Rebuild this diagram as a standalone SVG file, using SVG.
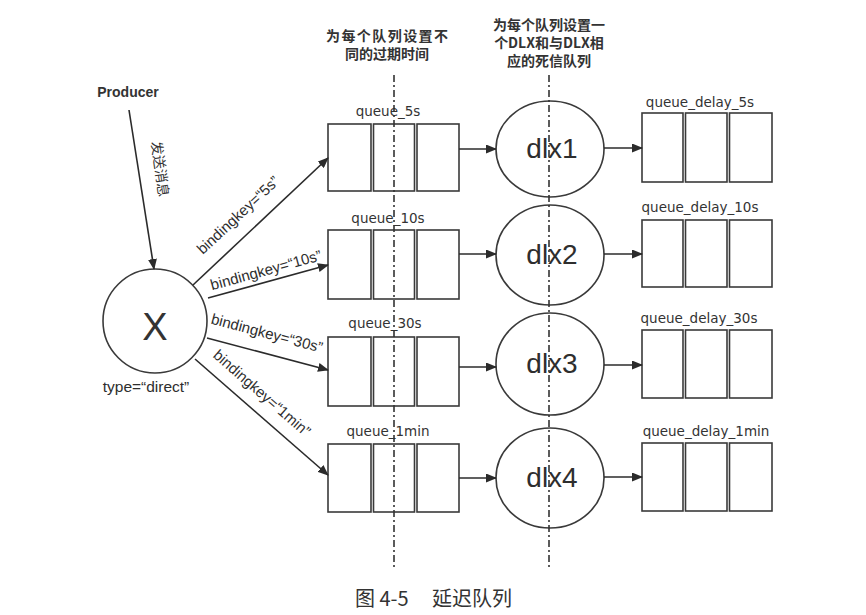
<svg xmlns="http://www.w3.org/2000/svg" width="866" height="615" viewBox="0 0 866 615">
<defs>
<marker id="arr" markerUnits="userSpaceOnUse" markerWidth="11" markerHeight="9" refX="10" refY="4.5" orient="auto">
<path d="M0,0 L11,4.5 L0,9 z" fill="#2b2b2b"/>
</marker>
<style>
.cell{fill:#fff;stroke:#3a3a3a;stroke-width:1.6}
.circ{fill:#fff;stroke:#3a3a3a;stroke-width:1.6}
.conn line{stroke:#2b2b2b;stroke-width:1.6;marker-end:url(#arr)}
.dash{stroke:#333;stroke-width:1.6;stroke-dasharray:7 3 2 3}
.qlab{font-family:"DejaVu Sans",sans-serif;font-size:13.5px;fill:#333}
.dlx{font-family:"Liberation Sans",Arial,sans-serif;font-size:28px;fill:#2e2e2e;text-anchor:middle}
.bk{font-family:"Liberation Sans",Arial,sans-serif;font-size:15px;fill:#2e2e2e;text-anchor:middle}
.hd{font-family:"Noto Sans CJK SC",sans-serif;font-size:14px;font-weight:bold;fill:#333;text-anchor:middle}
.cap{font-family:"Noto Sans CJK SC",sans-serif;font-size:20px;fill:#333}
</style>
</defs>
<rect width="866" height="615" fill="#fff"/>

<!-- headers -->
<g id="header-ttl">
<text class="hd" x="387" y="41" textLength="122">为每个队列设置不</text>
<text class="hd" x="387" y="59">同的过期时间</text>
</g>
<g id="header-dlx">
<text class="hd" x="549" y="30">为每个队列设置一</text>
<text class="hd" x="549" y="48">个DLX和与DLX相</text>
<text class="hd" x="549" y="66">应的死信队列</text>
</g>

<!-- producer -->
<g id="producer">
<text x="128" y="97" font-family="Liberation Sans,Arial,sans-serif" font-size="14" font-weight="bold" fill="#333" text-anchor="middle">Producer</text>
</g>

<!-- exchange X -->
<g id="exchange-x">
<circle class="circ" cx="155" cy="321" r="52"/>
<text x="155" y="340" font-family="Liberation Sans,Arial,sans-serif" font-size="38" fill="#333" text-anchor="middle">X</text>
<text x="146" y="392" font-family="Liberation Sans,Arial,sans-serif" font-size="15.5" fill="#2e2e2e" text-anchor="middle">type=“direct”</text>
</g>

<!-- left queues -->
<g id="queue_5s">
<text class="qlab" x="388" y="116" text-anchor="middle">queue_5s</text>
<rect class="cell" x="328" y="124" width="43" height="67"/>
<rect class="cell" x="373.5" y="124" width="41" height="67"/>
<rect class="cell" x="417" y="124" width="42" height="67"/>
</g>
<g id="queue_10s">
<text class="qlab" x="388" y="223" text-anchor="middle">queue_10s</text>
<rect class="cell" x="328" y="230" width="43" height="69"/>
<rect class="cell" x="373.5" y="230" width="41" height="69"/>
<rect class="cell" x="417" y="230" width="42" height="69"/>
</g>
<g id="queue_30s">
<text class="qlab" x="385" y="328" text-anchor="middle">queue_30s</text>
<rect class="cell" x="328" y="337" width="43" height="69"/>
<rect class="cell" x="373.5" y="337" width="41" height="69"/>
<rect class="cell" x="417" y="337" width="42" height="69"/>
</g>
<g id="queue_1min">
<text class="qlab" x="388" y="436" text-anchor="middle">queue_1min</text>
<rect class="cell" x="328" y="444" width="43" height="68"/>
<rect class="cell" x="373.5" y="444" width="41" height="68"/>
<rect class="cell" x="417" y="444" width="42" height="68"/>
</g>

<!-- dlx exchanges -->
<g id="dlx1">
<ellipse class="circ" cx="550" cy="149" rx="54" ry="48"/>
<text class="dlx" x="552" y="158">dlx1</text>
</g>
<g id="dlx2">
<ellipse class="circ" cx="550" cy="255" rx="54" ry="50"/>
<text class="dlx" x="552" y="264">dlx2</text>
</g>
<g id="dlx3">
<ellipse class="circ" cx="550" cy="364" rx="54" ry="51"/>
<text class="dlx" x="552" y="373">dlx3</text>
</g>
<g id="dlx4">
<ellipse class="circ" cx="550" cy="478" rx="54" ry="50"/>
<text class="dlx" x="552" y="487">dlx4</text>
</g>

<!-- right queues -->
<g id="queue_delay_5s">
<text class="qlab" x="700" y="107" text-anchor="middle">queue_delay_5s</text>
<rect class="cell" x="642" y="113" width="41" height="69"/>
<rect class="cell" x="685.5" y="113" width="41.5" height="69"/>
<rect class="cell" x="729.5" y="113" width="42.5" height="69"/>
</g>
<g id="queue_delay_10s">
<text class="qlab" x="700" y="212" text-anchor="middle">queue_delay_10s</text>
<rect class="cell" x="642" y="220" width="41" height="67"/>
<rect class="cell" x="685.5" y="220" width="41.5" height="67"/>
<rect class="cell" x="729.5" y="220" width="42.5" height="67"/>
</g>
<g id="queue_delay_30s">
<text class="qlab" x="699" y="323" text-anchor="middle">queue_delay_30s</text>
<rect class="cell" x="642" y="330" width="41" height="68"/>
<rect class="cell" x="685.5" y="330" width="41.5" height="68"/>
<rect class="cell" x="729.5" y="330" width="42.5" height="68"/>
</g>
<g id="queue_delay_1min">
<text class="qlab" x="706" y="436" text-anchor="middle">queue_delay_1min</text>
<rect class="cell" x="642" y="443" width="41" height="68"/>
<rect class="cell" x="685.5" y="443" width="41.5" height="68"/>
<rect class="cell" x="729.5" y="443" width="42.5" height="68"/>
</g>

<!-- connectors -->
<g id="connectors" class="conn">
<line x1="129" y1="110" x2="154" y2="269"/>
<line x1="193" y1="285" x2="328" y2="158"/>
<line x1="208" y1="298" x2="328" y2="265"/>
<line x1="207" y1="338" x2="328" y2="370"/>
<line x1="195" y1="359" x2="328" y2="475"/>
<line x1="459" y1="149" x2="496" y2="149"/>
<line x1="459" y1="254" x2="496" y2="254"/>
<line x1="459" y1="367" x2="496" y2="367"/>
<line x1="459" y1="478" x2="496" y2="478"/>
<line x1="604" y1="148" x2="642" y2="148"/>
<line x1="604" y1="254" x2="642" y2="254"/>
<line x1="604" y1="365" x2="642" y2="365"/>
<line x1="604" y1="477" x2="642" y2="477"/>
</g>

<!-- connector labels -->
<g id="connector-labels">
<text x="0" y="0" font-family="Noto Sans CJK SC,sans-serif" font-size="14" fill="#333" text-anchor="middle" dy="0.35em" transform="translate(160,169) rotate(82)">发送消息</text>
<text class="bk" dy="0.35em" transform="translate(238,215) rotate(-43)">bindingkey=“5s”</text>
<text class="bk" dy="0.35em" transform="translate(266,270) rotate(-15.4)">bindingkey=“10s”</text>
<text class="bk" dy="0.35em" transform="translate(267,333) rotate(14.8)">bindingkey=“30s”</text>
<text class="bk" dy="0.35em" transform="translate(262,393) rotate(41)">bindingkey=“1min”</text>
</g>

<!-- guide lines -->
<g id="guides">
<line class="dash" x1="394" y1="75" x2="394" y2="568"/>
<line class="dash" x1="549" y1="75" x2="549" y2="568"/>
</g>

<g id="caption">
<text class="cap" x="355" y="606">图 4-5</text>
<text class="cap" x="432" y="606">延迟队列</text>
</g>
</svg>
